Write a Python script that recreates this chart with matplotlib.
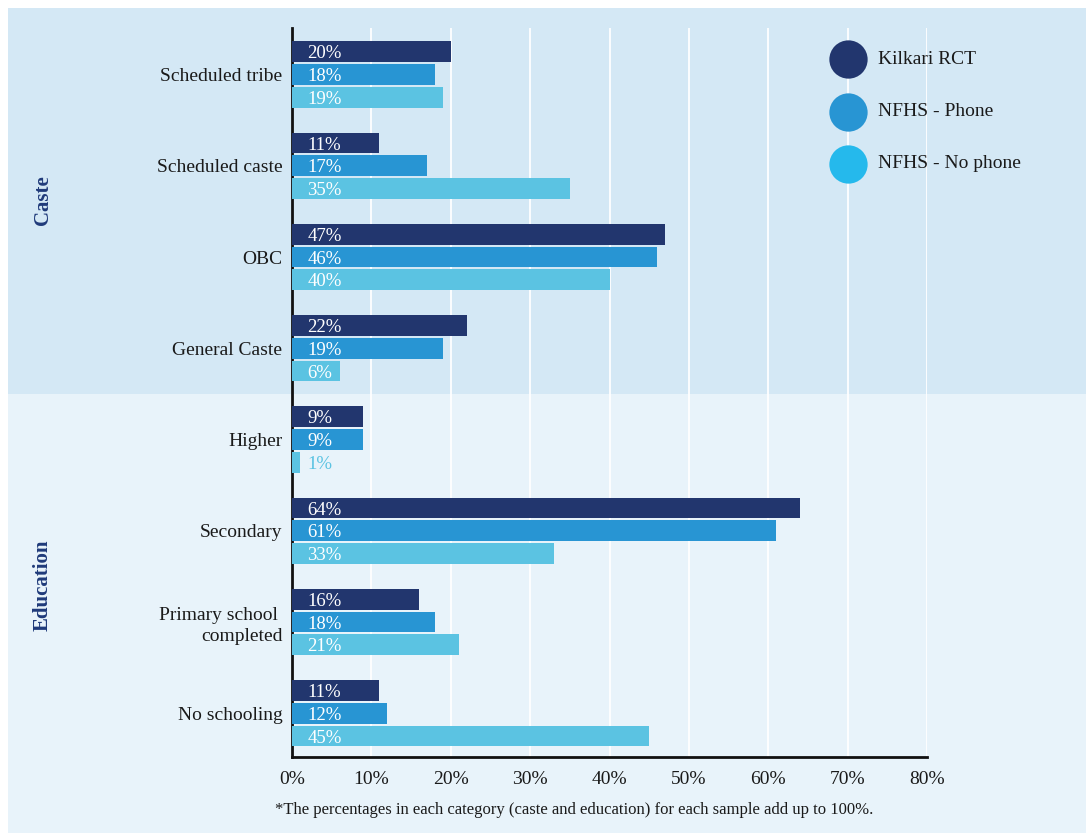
import matplotlib

matplotlib.use("Agg")
import matplotlib.pyplot as plt
from matplotlib.patches import Rectangle
import numpy as np

plt.rcParams["font.family"] = ["Liberation Serif", "DejaVu Serif"]

CATEGORIES = [
    "Scheduled tribe",
    "Scheduled caste",
    "OBC",
    "General Caste",
    "Higher",
    "Secondary",
    "Primary school \ncompleted",
    "No schooling",
]
SERIES = ["Kilkari RCT", "NFHS - Phone", "NFHS - No phone"]
KILKARI = [20, 11, 47, 22, 9, 64, 16, 11]
NFHS_PHONE = [18, 17, 46, 19, 9, 61, 18, 12]
NFHS_NO_PHONE = [19, 35, 40, 6, 1, 33, 21, 45]
GROUPS = [("Caste", 200), ("Education", 585)]
XTICKS = [0, 10, 20, 30, 40, 50, 60, 70, 80]
FOOTNOTE = "*The percentages in each category (caste and education) for each sample add up to 100%."

BAR_COLORS = ["#22366e", "#2895d3", "#5bc3e2"]
LEGEND_COLORS = ["#22366e", "#2895d3", "#25b9ec"]
BAND_COLORS = ["#d4e8f5", "#e8f3fa"]
NAVY = "#1f3a7a"

W, H = 1086, 833
fig = plt.figure(figsize=(W / 100, H / 100), dpi=100)
fig.patch.set_facecolor("white")

ax = fig.add_axes([292 / W, 1 - 757 / H, 635 / W, 729 / H])
ax.set_facecolor("none")

ax.set_ylim(7.48, -0.51)
ax.set_xlim(0, 80)


def data_y_to_fig(y):
    return ax.transData.transform((0, y))[1] / H


# background bands, split halfway between the caste and education groups
split = data_y_to_fig(3.5)
top = 1 - 8 / H
fig.patches.append(Rectangle((8 / W, split), 1, top - split, transform=fig.transFigure,
                             facecolor=BAND_COLORS[0], edgecolor="none", zorder=-10))
fig.patches.append(Rectangle((8 / W, 0), 1, split, transform=fig.transFigure,
                             facecolor=BAND_COLORS[1], edgecolor="none", zorder=-10))

pos = np.arange(len(CATEGORIES))
step = 0.25
height = 0.228
for k, (vals, col) in enumerate(zip([KILKARI, NFHS_PHONE, NFHS_NO_PHONE], BAR_COLORS)):
    ys = pos + (k - 1) * step
    ax.barh(ys, vals, height=height, color=col, edgecolor="none", zorder=3)
    for y, v in zip(ys, vals):
        txtcol = "white" if v >= 4 else col
        ax.annotate(f"{v}%", (0, y), xytext=(11, -1.5), textcoords="offset points",
                    ha="left", va="center", fontsize=13.5, color=txtcol, zorder=4)

ax.set_yticks(pos)
ax.set_yticklabels(CATEGORIES, fontsize=14, color="#1a1a1a", linespacing=1.3)
ax.set_xticks(XTICKS)
ax.set_xticklabels([f"{t}%" for t in XTICKS], fontsize=14, color="#1a1a1a")
ax.tick_params(axis="both", length=0)
ax.tick_params(axis="y", pad=7)
ax.tick_params(axis="x", pad=10)
ax.xaxis.grid(True, color="white", linewidth=1.3, zorder=0)
ax.set_axisbelow(True)
for side in ["top", "right"]:
    ax.spines[side].set_visible(False)
for side in ["left", "bottom"]:
    ax.spines[side].set_linewidth(2)
    ax.spines[side].set_color("#111111")

for name, ypix in GROUPS:
    fig.text(43 / W, 1 - ypix / H, name, rotation=90, ha="center", va="center",
             fontsize=15, fontweight="bold", color=NAVY)

# legend
leg_x = (848 - 292) / 635
for i, (lab, col) in enumerate(zip(SERIES, LEGEND_COLORS)):
    ly = (757 - (59 + i * 52.5)) / 729
    ax.scatter([leg_x], [ly], s=760, color=col, transform=ax.transAxes,
               clip_on=False, zorder=5, linewidths=0)
    ax.text(leg_x + 30 / 635, ly, lab, transform=ax.transAxes, ha="left",
            va="center", fontsize=14, color="#1a1a1a")

fig.text(275 / W, 1 - 810 / H, FOOTNOTE, ha="left", va="center",
         fontsize=12, color="#1a1a1a")

fig.savefig("out.png", dpi=100)
